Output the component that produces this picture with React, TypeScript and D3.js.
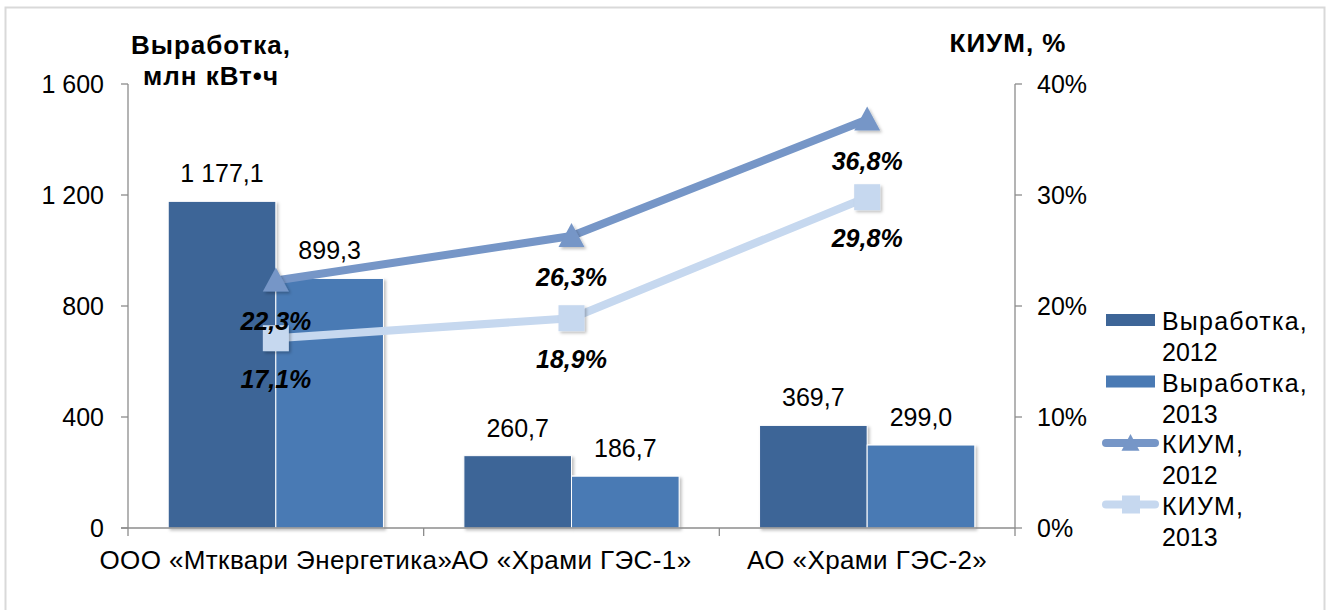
import React from "react";
import * as d3 from "d3";

const categories = ["ООО «Мтквари Энергетика»", "АО «Храми ГЭС-1»", "АО «Храми ГЭС-2»"];
const output2012 = [1177.1, 260.7, 369.7];
const output2013 = [899.3, 186.7, 299.0];
const kium2012 = [22.3, 26.3, 36.8];
const kium2013 = [17.1, 18.9, 29.8];
const leftTicks = [0, 400, 800, 1200, 1600];
const rightTicks = [0, 10, 20, 30, 40];
const legendItems = [
  { l1: "Выработка,", l2: "2012", type: "bar", color: "#3D6597" },
  { l1: "Выработка,", l2: "2013", type: "bar", color: "#4A7AB4" },
  { l1: "КИУМ,", l2: "2012", type: "tri", color: "#7696C7" },
  { l1: "КИУМ,", l2: "2013", type: "sq", color: "#C6D8EF" },
];

const W = 1329, H = 610;
const FONT = "'Liberation Sans', Arial, sans-serif";
const X0 = 128, X1 = 1015, YB = 528, YT = 84;
const FS = 25;

const fmtNum = (v: number) => {
  const s = v.toFixed(1).replace(".", ",");
  const [i, d] = s.split(",");
  return i.replace(/\B(?=(\d{3})+(?!\d))/g, " ") + "," + d;
};
const fmtTick = (v: number) => String(v).replace(/\B(?=(\d{3})+(?!\d))/g, " ");

export default function App() {
  const x = d3.scaleBand<string>().domain(categories).range([X0, X1]).paddingInner(0.272).paddingOuter(0.136);
  const yL = d3.scaleLinear().domain([0, 1600]).range([YB, YT]);
  const yR = d3.scaleLinear().domain([0, 40]).range([YB, YT]);
  const bw = x.bandwidth() / 2;
  const cx = (c: string) => (x(c) as number) + x.bandwidth() / 2;
  const line = d3.line<[number, number]>();
  const pts12 = categories.map((c, i) => [cx(c), yR(kium2012[i])] as [number, number]);
  const pts13 = categories.map((c, i) => [cx(c), yR(kium2013[i])] as [number, number]);
  const catEdges = d3.range(categories.length + 1).map((i) => X0 + (i * (X1 - X0)) / categories.length);
  const tri = (px: number, py: number, s = 13) => `M${px},${py - s}L${px + s},${py + s * 0.85}L${px - s},${py + s * 0.85}Z`;

  return (
    <svg width={W} height={H} style={{ position: "absolute", left: 0, top: 0, fontFamily: FONT }}>
      <defs>
        <filter id="sh" x="-20%" y="-20%" width="150%" height="150%">
          <feDropShadow dx="2" dy="2" stdDeviation="1.5" floodColor="#000" floodOpacity="0.25" />
        </filter>
      </defs>
      <rect x={0} y={0} width={W} height={H} fill="#fff" />
      <rect x={5.5} y={7.5} width={1319} height={620} fill="none" stroke="#d9d9d9" strokeWidth={2} />

      {/* bars */}
      {categories.map((c, i) => (
        <g key={c} filter="url(#sh)">
          <rect x={x(c)} y={yL(output2012[i])} width={bw} height={YB - yL(output2012[i])} fill="#3D6597" stroke="#fff" strokeWidth={1} />
          <rect x={(x(c) as number) + bw} y={yL(output2013[i])} width={bw} height={YB - yL(output2013[i])} fill="#4A7AB4" stroke="#fff" strokeWidth={1} />
        </g>
      ))}
      {categories.map((c, i) => (
        <g key={c + "l"} fontSize={FS} textAnchor="middle" fill="#000">
          <text x={(x(c) as number) + bw / 2} y={yL(output2012[i]) - 19}>{fmtNum(output2012[i])}</text>
          <text x={(x(c) as number) + bw * 1.5} y={yL(output2013[i]) - 19}>{fmtNum(output2013[i])}</text>
        </g>
      ))}

      {/* axes */}
      <g stroke="#8c8c8c" strokeWidth={1.3}>
        <line x1={X0} y1={YT} x2={X0} y2={YB} />
        <line x1={X1} y1={YT} x2={X1} y2={YB} />
        <line x1={X0 - 7} y1={YB} x2={X1} y2={YB} />
        {leftTicks.map((t) => <line key={"lt" + t} x1={X0 - 7} x2={X0} y1={yL(t)} y2={yL(t)} />)}
        {rightTicks.map((t) => <line key={"rt" + t} x1={X1} x2={X1 + 7} y1={yR(t)} y2={yR(t)} />)}
        {catEdges.map((e, i) => <line key={"ct" + i} x1={e} x2={e} y1={YB} y2={YB + 8} />)}
      </g>
      <g fontSize={FS} fill="#000">
        {leftTicks.map((t) => (
          <text key={"ltl" + t} x={104} y={yL(t) + 9} textAnchor="end">{fmtTick(t)}</text>
        ))}
        {rightTicks.map((t) => (
          <text key={"rtl" + t} x={1037} y={yR(t) + 9}>{t}%</text>
        ))}
        {categories.map((c) => (
          <text key={"cl" + c} x={cx(c)} y={569} textAnchor="middle" fontSize={26} letterSpacing={0.4}>{c}</text>
        ))}
      </g>
      <g fontSize={26} fontWeight="bold" fill="#000" textAnchor="middle" letterSpacing={1}>
        <text x={211} y={54}>Выработка,</text>
        <text x={211} y={85}>млн кВт•ч</text>
        <text x={1008} y={52}>КИУМ, %</text>
      </g>

      {/* lines */}
      <path d={line(pts12) as string} fill="none" stroke="#7696C7" strokeWidth={8} strokeLinejoin="round" />
      <path d={line(pts13) as string} fill="none" stroke="#C6D8EF" strokeWidth={8} strokeLinejoin="round" />
      {pts12.map(([px, py], i) => (
        <path key={"m12" + i} d={tri(px, py)} fill="#7696C7" filter="url(#sh)" />
      ))}
      {pts13.map(([px, py], i) => (
        <rect key={"m13" + i} x={px - 13} y={py - 13} width={26} height={26} fill="#C6D8EF" filter="url(#sh)" />
      ))}
      <g fontSize={FS} fontWeight="bold" fontStyle="italic" fill="#000" textAnchor="middle">
        {pts12.map(([px, py], i) => (
          <text key={"k12" + i} x={px} y={py + 50}>{kium2012[i].toFixed(1).replace(".", ",")}%</text>
        ))}
        {pts13.map(([px, py], i) => (
          <text key={"k13" + i} x={px} y={py + 50}>{kium2013[i].toFixed(1).replace(".", ",")}%</text>
        ))}
      </g>

      {/* legend */}
      {legendItems.map((it, i) => {
        const ly = 320 + i * 61.5;
        return (
          <g key={"lg" + i}>
            {it.type === "bar" && <rect x={1106} y={ly - 6} width={49} height={12} fill={it.color} />}
            {it.type !== "bar" && (
              <line x1={1106} x2={1155} y1={ly} y2={ly} stroke={it.color} strokeWidth={8} strokeLinecap="round" />
            )}
            {it.type === "tri" && <path d={tri(1130.5, ly, 9)} fill={it.color} />}
            {it.type === "sq" && <rect x={1122} y={ly - 9} width={18} height={18} fill={it.color} />}
            <text x={1162} y={ly + 10} fontSize={25} letterSpacing={1.2} fill="#000">{it.l1}</text>
            <text x={1162} y={ly + 41} fontSize={25} fill="#000">{it.l2}</text>
          </g>
        );
      })}
    </svg>
  );
}
